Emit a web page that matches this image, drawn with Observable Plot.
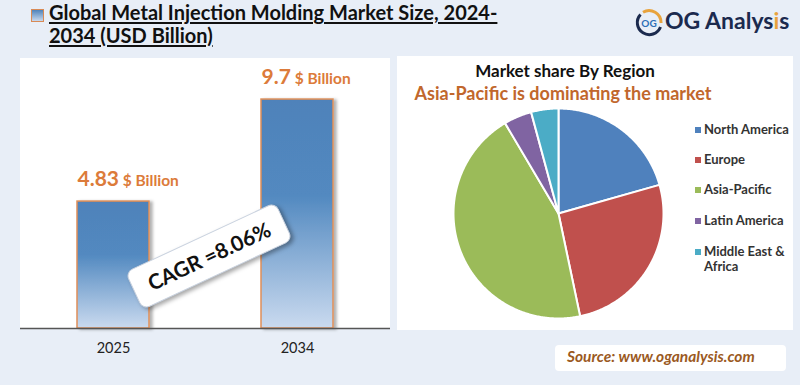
<!DOCTYPE html>
<html><head><meta charset="utf-8">
<script src="https://cdn.jsdelivr.net/npm/d3@7"></script>
<script src="https://cdn.jsdelivr.net/npm/@observablehq/plot@0.6"></script>
<style>
html,body{margin:0;padding:0;}
body{width:800px;height:385px;background:#e8eef7;position:relative;overflow:hidden;font-family:Lato,"Open Sans",sans-serif;}
.abs{position:absolute;}
#icon{left:31px;top:9px;width:11px;height:11px;border:1px solid #d98a55;background:linear-gradient(#4f83bb,#c9d9ee);}
#title{left:49px;top:1px;font-weight:700;font-size:20px;line-height:23px;color:#111;text-decoration:underline;text-underline-offset:2px;white-space:nowrap;}
#logoText{left:665px;top:6px;font-weight:700;font-size:23px;color:#1b2a4e;white-space:nowrap;}
#leftPanel{left:20px;top:58px;width:370px;height:270px;background:#fff;}
#rightPanel{left:397px;top:56px;width:396px;height:274px;background:#fff;}
#barChart{left:20px;top:58px;}
#pieChart{left:397px;top:56px;}
#cagr{left:126px;top:235px;width:164px;height:40px;background:#fff;border:1px solid #c9d2df;border-radius:8px;box-shadow:2px 3px 4px rgba(0,0,0,0.35);transform:rotate(-25deg);font-weight:700;font-size:21px;line-height:40px;text-align:center;color:#111;white-space:nowrap;}
#pieTitle{left:397px;top:60px;width:336px;text-align:center;font-weight:700;font-size:17px;color:#111;}
#pieSub{left:397px;top:82px;width:332px;text-align:center;font-weight:700;font-size:18px;color:#c1672c;white-space:nowrap;}
#legend{left:695px;top:122px;font-size:13px;font-weight:700;color:#333;line-height:15px;}
.lg{position:absolute;left:0;width:100px;}
.sw{position:absolute;left:0;top:5px;width:6px;height:6px;}
.lt{position:absolute;left:9px;top:0;}
#source{left:555px;top:345px;width:231px;height:26px;background:#fff;border-radius:4px;}
#sourceText{left:567px;top:347px;font-style:italic;font-weight:700;font-size:15.5px;color:#9b5a1f;white-space:nowrap;}
</style>
</head><body>
<div id="icon" class="abs"></div>
<div id="title" class="abs"></div>
<svg class="abs" style="left:634px;top:8px" width="30" height="30" viewBox="0 0 30 30">
  <path d="M6.5 6.5 A12 12 0 1 0 26.5 19" fill="none" stroke="#1b2a4e" stroke-width="3"/>
  <path d="M9 4.2 A12 12 0 0 1 27 15" fill="none" stroke="#e8a33d" stroke-width="3"/>
  <text x="15" y="19" text-anchor="middle" font-family="Lato" font-weight="700" font-size="10" fill="#2d6fb7">OG</text>
</svg>
<div id="logoText" class="abs">OG Analys<span style="color:#e8a33d">i</span>s</div>
<div id="leftPanel" class="abs"></div>
<div id="rightPanel" class="abs"></div>
<div id="barChart" class="abs"></div>
<div id="cagr" class="abs"></div>
<div id="pieChart" class="abs"></div>
<div id="pieTitle" class="abs"></div>
<div id="pieSub" class="abs"></div>
<div id="legend" class="abs"></div>
<div id="source" class="abs"></div>
<div id="sourceText" class="abs"></div>
<script>
// ---- data ----
const titleLines = ["Global Metal Injection Molding Market Size, 2024-", "2034 (USD Billion)"];
const years = ["2025", "2034"];
const marketSize = [4.83, 9.7];
const unitLabel = " $ Billion";
const cagrText = "CAGR =8.06%";
const axisMin = -1.23;
const axisMax = 11.66;
const regions = ["North America", "Europe", "Asia-Pacific", "Latin America", "Middle East & Africa"];
const legendLabels = ["North America", "Europe", "Asia-Pacific", "Latin America", "Middle East &<br>Africa"];
const shares = [20.6, 26.1, 44.8, 4.3, 4.2];
const regionColors = ["#4f81bd", "#c0504d", "#9bbb59", "#8064a2", "#4bacc6"];
const pieTitle = "Market share By Region";
const pieSubtitle = "Asia-Pacific is dominating the market";
const sourceText = "Source: www.oganalysis.com";

document.getElementById("title").innerHTML = titleLines.join("<br>");
document.getElementById("cagr").textContent = cagrText;
document.getElementById("pieTitle").textContent = pieTitle;
document.getElementById("pieSub").textContent = pieSubtitle;
document.getElementById("sourceText").textContent = sourceText;

// ---- bar chart ----
const barData = years.map((y, i) => ({year: y, value: marketSize[i]}));
const bar = Plot.plot({
  width: 370, height: 300,
  marginTop: 0, marginBottom: 30, marginLeft: 0, marginRight: 0,
  style: {background: "transparent", fontFamily: "Lato, sans-serif", fontSize: "14px", color: "#222"},
  x: {domain: years, paddingInner: 0.61, paddingOuter: 0.31, label: null},
  y: {domain: [axisMin, axisMax], axis: null},
  marks: [
    Plot.barY(barData, {x: "year", y1: () => axisMin, y2: "value", fill: "url(#barGrad)", stroke: "#df8f58", strokeWidth: 1.5}),
    Plot.ruleY([axisMin], {stroke: "#555", strokeWidth: 1.5}),
    Plot.axisX({tickSize: 0, tickPadding: 14, fontSize: 14.5, fill: "#222"}),
    Plot.text(barData, {x: "year", y: "value", text: d => String(d.value), textAnchor: "start", dx: -36, dy: -22,
      fill: "#dc7b3a", fontWeight: "bold", fontSize: 21})
  ]
});
const bsel = d3.select(bar);
bsel.insert("defs", ":first-child").html(`
  <linearGradient id="barGrad" x1="0" y1="0" x2="0" y2="1">
    <stop offset="0" stop-color="#4f82ba"/>
    <stop offset="0.42" stop-color="#5289c0"/>
    <stop offset="1" stop-color="#cadaef"/>
  </linearGradient>
  <filter id="barShadow" x="-20%" y="-10%" width="150%" height="130%">
    <feDropShadow dx="3" dy="1" stdDeviation="1.5" flood-color="#000" flood-opacity="0.3"/>
  </filter>`);
bsel.selectAll("rect").filter(function(){ return (this.getAttribute("fill")||"").startsWith("url") || (this.parentNode.getAttribute("fill")||"").startsWith("url"); }).attr("filter", "url(#barShadow)");
bsel.selectAll("text").filter(function(){ return marketSize.map(String).includes(this.textContent); })
  .append("tspan").attr("font-size", 15.5).text(unitLabel);
document.getElementById("barChart").appendChild(bar);

// ---- pie chart ----
const arcs = d3.pie().sort(null).value(d => d)(shares);
const piePts = [];
arcs.forEach((a, i) => {
  piePts.push({region: regions[i], x: 0, y: 0});
  const n = Math.max(2, Math.ceil((a.endAngle - a.startAngle) / 0.01));
  for (let k = 0; k <= n; k++) {
    const t = a.startAngle + (a.endAngle - a.startAngle) * k / n;
    piePts.push({region: regions[i], x: Math.sin(t), y: Math.cos(t)});
  }
  piePts.push({region: regions[i], x: 0, y: 0});
});
const pie = Plot.plot({
  width: 396, height: 274, margin: 0,
  style: {background: "transparent"},
  x: {domain: [-1, 1], range: [56, 266], axis: null},
  y: {domain: [-1, 1], range: [262, 52], axis: null},
  color: {domain: regions, range: regionColors},
  marks: [
    Plot.line(piePts, {x: "x", y: "y", z: "region", fill: "region", stroke: "#fff", strokeWidth: 2, strokeLinejoin: "round"})
  ]
});
document.getElementById("pieChart").appendChild(pie);

// ---- legend ----
const legendTops = [0, 30, 60, 91, 122];
const lg = document.getElementById("legend");
regions.forEach((r, i) => {
  const row = document.createElement("div");
  row.className = "lg";
  row.style.top = legendTops[i] + "px";
  row.innerHTML = `<div class="sw" style="background:${regionColors[i]}"></div><div class="lt">${legendLabels[i]}</div>`;
  lg.appendChild(row);
});
</script>
</body></html>
